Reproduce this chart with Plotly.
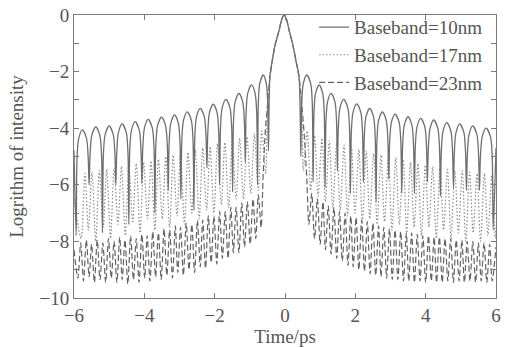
import plotly.graph_objects as go

# ---------------- data ----------------
# central lobe shared by the three baseband widths
main_t = [-0.43, -0.36, -0.28, -0.17, -0.09, -0.03, 0.04, 0.12, 0.22, 0.31, 0.40]
main_v = [-2.2, -1.6, -1.05, -0.55, -0.15, 0.0, -0.15, -0.55, -1.05, -1.6, -2.2]

# Baseband = 10 nm (solid)
b10_edge_v = [-4.8, -4.7]            # values at t=-6 and t=6
b10_null_t_left = [-5.94, -5.57, -5.19, -4.81, -4.44, -4.07, -3.70, -3.32,
                   -2.96, -2.59, -2.22, -1.86, -1.49, -1.13, -0.78, -0.47]
b10_null_v_left = [-7.8, -6.0, -7.7, -6.0, -7.4, -5.95, -7.0, -6.2,
                   -6.5, -6.9, -5.4, -6.0, -6.25, -5.2, -6.0, -4.8]
b10_peak_t_left = [-5.76, -5.38, -5.00, -4.63, -4.26, -3.89, -3.51, -3.14,
                   -2.78, -2.41, -2.04, -1.68, -1.31, -0.95, -0.62]
b10_peak_v_left = [-4.06, -3.95, -3.92, -3.85, -3.77, -3.69, -3.61, -3.53,
                   -3.42, -3.30, -3.15, -2.98, -2.77, -2.47, -2.12]
b10_null_t_right = [0.45, 0.80, 1.14, 1.49, 1.86, 2.23, 2.59, 2.95,
                    3.32, 3.68, 4.05, 4.42, 4.79, 5.16, 5.53, 5.92]
b10_null_v_right = [-5.0, -5.9, -6.1, -5.5, -6.3, -5.9, -6.6, -5.8,
                    -6.3, -6.3, -5.9, -6.4, -6.1, -6.2, -6.2, -7.6]
b10_peak_t_right = [0.62, 0.97, 1.31, 1.67, 2.04, 2.41, 2.77, 3.13,
                    3.50, 3.86, 4.23, 4.60, 4.97, 5.34, 5.72]
b10_peak_v_right = [-2.12, -2.47, -2.77, -2.98, -3.14, -3.30, -3.42, -3.50,
                    -3.59, -3.65, -3.71, -3.80, -3.85, -3.92, -4.00]

# Baseband = 17 nm (dotted)
b17_edge_v = [-6.5, -7.5]
b17_null_t_left = [-5.80, -5.59, -5.38, -5.17, -4.96, -4.75, -4.54, -4.33, -4.12,
                   -3.91, -3.70, -3.49, -3.28, -3.07, -2.86, -2.65, -2.44, -2.23,
                   -2.02, -1.81, -1.60, -1.39, -1.18, -0.97, -0.76, -0.55]
b17_null_v_left = [-7.9, -7.6, -8.0, -7.5, -7.9, -7.4, -7.8, -7.3, -7.7,
                   -7.2, -7.6, -7.2, -7.5, -7.1, -7.4, -7.0, -7.2, -6.9,
                   -7.0, -6.7, -6.8, -6.5, -6.5, -6.3, -6.2, -5.6]
b17_peak_t_left = [-5.69, -5.49, -5.28, -5.07, -4.86, -4.65, -4.44, -4.23, -4.02,
                   -3.81, -3.60, -3.39, -3.18, -2.97, -2.76, -2.55, -2.34, -2.13,
                   -1.92, -1.71, -1.50, -1.29, -1.08, -0.87, -0.66]
b17_peak_v_left = [-5.6, -5.55, -5.5, -5.45, -5.4, -5.35, -5.3, -5.25, -5.2,
                   -5.15, -5.1, -5.0, -4.95, -4.9, -4.85, -4.75, -4.7, -4.65,
                   -4.55, -4.5, -4.45, -4.35, -4.3, -4.2, -4.1]
b17_flank_t = [-0.50, 0.48]
b17_flank_v = [-3.3, -3.3]
b17_null_t_right = [0.52, 0.73, 0.94, 1.15, 1.36, 1.57, 1.78, 1.99, 2.20,
                    2.41, 2.62, 2.83, 3.04, 3.25, 3.46, 3.67, 3.88, 4.09,
                    4.30, 4.51, 4.72, 4.93, 5.14, 5.35, 5.56, 5.77, 5.98]
b17_null_v_right = [-5.5, -6.2, -6.4, -6.6, -6.8, -6.9, -7.1, -7.0, -7.3,
                    -7.2, -7.4, -7.3, -7.6, -7.4, -7.7, -7.5, -7.8, -7.5,
                    -7.9, -7.6, -7.9, -7.7, -8.0, -7.7, -8.0, -7.8, -7.9]
b17_peak_t_right = [0.63, 0.84, 1.05, 1.26, 1.47, 1.68, 1.89, 2.10, 2.31,
                    2.52, 2.73, 2.94, 3.15, 3.36, 3.57, 3.78, 3.99, 4.20,
                    4.41, 4.62, 4.83, 5.04, 5.25, 5.46, 5.67, 5.88]
b17_peak_v_right = [-4.1, -4.25, -4.35, -4.45, -4.5, -4.6, -4.65, -4.75, -4.8,
                    -4.9, -4.95, -5.0, -5.05, -5.1, -5.2, -5.25, -5.3, -5.35,
                    -5.4, -5.45, -5.5, -5.5, -5.55, -5.6, -5.6, -5.65]

# Baseband = 23 nm (dashed)
b23_edge_v = [-8.3, -8.2]
b23_null_t_left = [-5.89, -5.73, -5.57, -5.42, -5.26, -5.10, -4.94, -4.78, -4.63,
                   -4.47, -4.31, -4.15, -3.99, -3.84, -3.68, -3.52, -3.36, -3.20,
                   -3.05, -2.89, -2.73, -2.57, -2.41, -2.26, -2.10, -1.94, -1.78,
                   -1.62, -1.47, -1.31, -1.15, -0.99, -0.83, -0.68]
b23_null_v_left = [-9.30, -9.40, -9.25, -9.45, -9.35, -9.45, -9.30, -9.45, -9.35,
                   -9.50, -9.35, -9.45, -9.30, -9.40, -9.25, -9.35, -9.20, -9.30,
                   -9.10, -9.20, -9.00, -9.10, -8.90, -8.95, -8.75, -8.80, -8.60,
                   -8.60, -8.40, -8.40, -8.20, -8.10, -7.90, -7.50]
b23_peak_t_left = [-5.81, -5.65, -5.50, -5.34, -5.18, -5.02, -4.86, -4.70, -4.55,
                   -4.39, -4.23, -4.07, -3.92, -3.76, -3.60, -3.44, -3.28, -3.12,
                   -2.97, -2.81, -2.65, -2.49, -2.34, -2.18, -2.02, -1.86, -1.70,
                   -1.54, -1.39, -1.23, -1.07, -0.91, -0.76]
b23_peak_v_left = [-8.05, -7.95, -8.10, -7.95, -8.05, -7.90, -8.00, -7.85, -7.95,
                   -7.80, -7.90, -7.75, -7.80, -7.65, -7.70, -7.55, -7.60, -7.45,
                   -7.50, -7.35, -7.40, -7.25, -7.25, -7.10, -7.10, -6.95, -6.95,
                   -6.80, -6.80, -6.65, -6.60, -6.50, -6.35]
b23_flank_t_left = [-0.62, -0.56, -0.50]
b23_flank_v_left = [-5.6, -4.1, -3.2]
b23_flank_t_right = [0.48, 0.55, 0.62]
b23_flank_v_right = [-3.2, -4.3, -5.8]
b23_null_t_right = [0.68, 0.84, 1.00, 1.15, 1.31, 1.47, 1.63, 1.79, 1.94,
                    2.10, 2.26, 2.42, 2.58, 2.73, 2.89, 3.05, 3.21, 3.37,
                    3.52, 3.68, 3.84, 4.00, 4.16, 4.31, 4.47, 4.63, 4.79,
                    4.95, 5.10, 5.26, 5.42, 5.58, 5.74, 5.89]
b23_null_v_right = [-7.40, -7.90, -8.10, -8.30, -8.45, -8.60, -8.70, -8.85, -8.90,
                    -9.00, -9.05, -9.15, -9.20, -9.25, -9.30, -9.35, -9.35, -9.40,
                    -9.40, -9.45, -9.40, -9.45, -9.40, -9.45, -9.45, -9.40, -9.45,
                    -9.40, -9.45, -9.40, -9.45, -9.40, -9.45, -9.40]
b23_peak_t_right = [0.76, 0.92, 1.08, 1.23, 1.39, 1.55, 1.71, 1.87, 2.02,
                    2.18, 2.34, 2.50, 2.66, 2.81, 2.97, 3.13, 3.29, 3.45,
                    3.60, 3.76, 3.92, 4.08, 4.24, 4.39, 4.55, 4.71, 4.87,
                    5.03, 5.18, 5.34, 5.50, 5.66, 5.82]
b23_peak_v_right = [-6.30, -6.50, -6.60, -6.75, -6.80, -6.95, -7.00, -7.10, -7.15,
                    -7.25, -7.30, -7.35, -7.45, -7.50, -7.55, -7.60, -7.65, -7.70,
                    -7.70, -7.75, -7.80, -7.80, -7.85, -7.85, -7.90, -7.90, -7.95,
                    -7.95, -8.00, -8.00, -8.05, -8.05, -8.10]

x_range = [-6, 6]
y_range = [-10, 0]
x_ticks = [-6, -4, -2, 0, 2, 4, 6]
y_ticks = [0, -1, -2, -3, -4, -5, -6, -7, -8, -9, -10]

# arch profile of a side lobe (fraction of lobe width, drop below lobe peak)
ARCH_FRAC = [0.07, 0.2]
ARCH_DROP = [1.0, 0.3]


def lobes(null_t, null_v, peak_t, peak_v, arch=False):
    xs, ys = [], []
    for i in range(len(peak_t)):
        xs.append(null_t[i]); ys.append(null_v[i])
        if arch:
            a, b = null_t[i], null_t[i + 1]
            w = b - a
            for f, d in zip(ARCH_FRAC, ARCH_DROP):
                xs.append(a + f * w); ys.append(peak_v[i] - d)
            xs.append(peak_t[i]); ys.append(peak_v[i])
            for f, d in zip(reversed(ARCH_FRAC), reversed(ARCH_DROP)):
                xs.append(b - f * w); ys.append(peak_v[i] - d)
        else:
            xs.append(peak_t[i]); ys.append(peak_v[i])
    xs.append(null_t[-1]); ys.append(null_v[-1])
    return xs, ys


# assemble the three curves
lx, ly = lobes(b10_null_t_left, b10_null_v_left, b10_peak_t_left, b10_peak_v_left, True)
rx, ry = lobes(b10_null_t_right, b10_null_v_right, b10_peak_t_right, b10_peak_v_right, True)
s10_x = [x_range[0]] + lx + main_t + rx + [x_range[1]]
s10_y = [b10_edge_v[0]] + ly + main_v + ry + [b10_edge_v[1]]

lx, ly = lobes(b17_null_t_left, b17_null_v_left, b17_peak_t_left, b17_peak_v_left)
rx, ry = lobes(b17_null_t_right, b17_null_v_right, b17_peak_t_right, b17_peak_v_right)
s17_x = [x_range[0]] + lx + [b17_flank_t[0]] + main_t + [b17_flank_t[1]] + rx + [x_range[1]]
s17_y = [b17_edge_v[0]] + ly + [b17_flank_v[0]] + main_v + [b17_flank_v[1]] + ry + [b17_edge_v[1]]

lx, ly = lobes(b23_null_t_left, b23_null_v_left, b23_peak_t_left, b23_peak_v_left)
rx, ry = lobes(b23_null_t_right, b23_null_v_right, b23_peak_t_right, b23_peak_v_right)
s23_x = [x_range[0]] + lx + b23_flank_t_left + main_t + b23_flank_t_right + rx + [x_range[1]]
s23_y = [b23_edge_v[0]] + ly + b23_flank_v_left + main_v + b23_flank_v_right + ry + [b23_edge_v[1]]

FONT = "Liberation Serif"
TXT = "#555555"
AX = "#7a7a7a"

fig = go.Figure()
fig.add_trace(go.Scatter(x=s23_x, y=s23_y, mode="lines", name="Baseband=23nm",
                         legendrank=3,
                         line=dict(color="#646464", width=1.2, dash="6px,3px",
                                   shape="spline", smoothing=0.8)))
fig.add_trace(go.Scatter(x=s17_x, y=s17_y, mode="lines", name="Baseband=17nm",
                         legendrank=2,
                         line=dict(color="#8c8c8c", width=1.2, dash="1.5px,2px",
                                   shape="spline", smoothing=0.8)))
fig.add_trace(go.Scatter(x=s10_x, y=s10_y, mode="lines", name="Baseband=10nm",
                         legendrank=1,
                         line=dict(color="#6f6f6f", width=1.3,
                                   shape="spline", smoothing=0.8)))

fig.update_layout(
    width=506, height=347,
    margin=dict(l=74, r=10, t=15, b=49, autoexpand=False),
    paper_bgcolor="white", plot_bgcolor="white",
    font=dict(family=FONT, size=19, color=TXT),
    legend=dict(x=0.569, y=1.024, xanchor="left", yanchor="top",
                bgcolor="rgba(0,0,0,0)", font=dict(family=FONT, size=19, color=TXT),
                itemwidth=30, tracegroupgap=0),
)
fig.update_xaxes(range=x_range, tickvals=x_ticks,
                 ticktext=[("\u2212" + str(-v)) if v < 0 else str(v) for v in x_ticks],
                 ticks="inside", ticklen=5, tickcolor=AX, showline=True,
                 linecolor=AX, linewidth=1, mirror="ticks", showgrid=False,
                 zeroline=False, tickfont=dict(family=FONT, size=19, color=TXT),
                 title=dict(text="Time/ps", standoff=2,
                            font=dict(family=FONT, size=19, color=TXT)))
fig.update_yaxes(range=y_range, tickvals=y_ticks,
                 ticktext=[("\u2212" + str(-v) if v < 0 else str(v)) if v % 2 == 0 else ""
                           for v in y_ticks],
                 ticks="inside", ticklen=5, tickcolor=AX, showline=True,
                 linecolor=AX, linewidth=1, mirror="ticks", showgrid=False,
                 zeroline=False, tickfont=dict(family=FONT, size=19, color=TXT),
                 title=dict(text="Logrithm of intensity", standoff=10,
                            font=dict(family=FONT, size=19, color=TXT)))

fig.write_html("out.html")
